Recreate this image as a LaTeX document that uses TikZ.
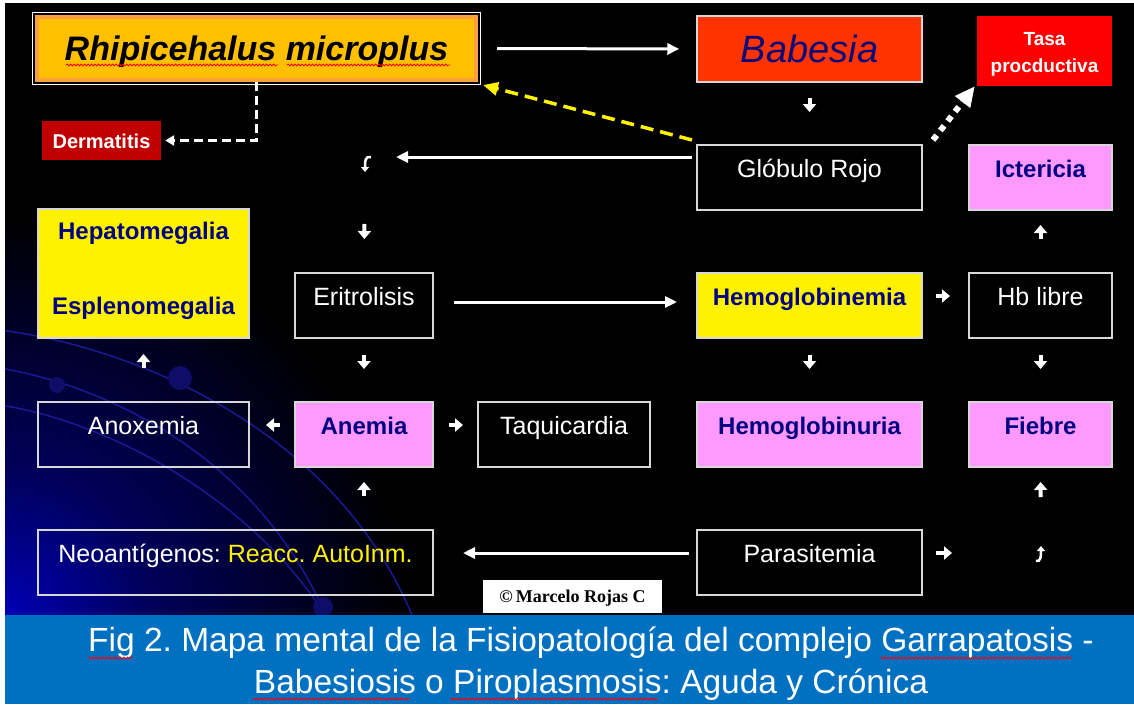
\documentclass[tikz,border=0pt]{standalone}
\usepackage{fontspec}
\setmainfont{Liberation Sans}
\newfontfamily\cpfont{Liberation Serif}
\usetikzlibrary{arrows.meta,decorations.pathmorphing}
\definecolor{navytxt}{RGB}{0,0,128}
\definecolor{pinkc}{RGB}{255,153,255}
\definecolor{orangec}{RGB}{255,192,0}
\definecolor{orangeb}{RGB}{250,160,60}
\definecolor{babc}{RGB}{255,51,0}
\definecolor{dermc}{RGB}{192,0,0}
\definecolor{bandc}{RGB}{0,112,192}
\definecolor{boxline}{RGB}{215,215,215}
\definecolor{glowA}{RGB}{0,0,180}
\definecolor{glowB}{RGB}{0,0,90}
\definecolor{curvec}{RGB}{25,25,150}
\definecolor{dotc}{RGB}{14,14,105}
\definecolor{babtxt}{RGB}{10,10,120}
\pgfdeclareradialshading{cornerglow}{\pgfpoint{0bp}{0bp}}{color(0bp)=(glowA); color(9bp)=(glowB); color(25bp)=(black); color(50bp)=(black)}
\frenchspacing
\begin{document}
\begin{tikzpicture}[x=1pt,y=-1pt,
  bx/.style={draw=boxline, line width=2pt, inner sep=0pt, text height=32pt, text depth=33pt},
  blackbx/.style={bx, text=white, font=\fontsize{25}{30}\selectfont},
  pinkbx/.style={bx, fill=pinkc, text=navytxt, font=\fontsize{24}{29}\selectfont\bfseries},
  yelbx/.style={bx, fill=yellow, text=navytxt, font=\fontsize{24}{29}\selectfont\bfseries},
  longarr/.style={draw=white, line width=3pt, -{Triangle[width=11pt,length=12pt]}},
  blk/.style={draw=white, line width=4pt, -{Triangle[width=13pt,length=8pt]}},
  curarr/.style={draw=white, line width=2.5pt, -{Triangle[width=8pt,length=5pt]}},
  spell/.style={draw=red, line width=0.8pt, decorate, decoration={snake, amplitude=1pt, segment length=3.5pt}},
  curveline/.style={draw=curvec, line width=1.5pt},
]
\useasboundingbox (0,0) rectangle (1134,704);
\fill[white] (0,0) rectangle (1134,704);
\fill[black] (5,3) rectangle (1134,615);
\begin{scope}
  \clip (5,3) rectangle (1134,615);
  \shade[shading=cornerglow] (5,615) circle (400pt);
  \draw[curveline] (0,330) .. controls (120,345) and (330,420) .. (412,615);
  \draw[curveline] (0,368) .. controls (100,385) and (250,450) .. (322,607);
  \draw[curveline] (0,405) .. controls (100,420) and (240,490) .. (320,607);
  \fill[dotc] (180,378) circle (12pt);
  \fill[dotc] (57,385) circle (8pt);
  \fill[dotc] (323,607) circle (10pt);
\end{scope}
\fill[bandc] (5,615) rectangle (1134,704);

% nodes
\node[fill=orangec, draw=orangeb, line width=4pt, inner sep=0pt, minimum width=439pt, minimum height=63pt,
      text height=24pt, text depth=0pt, font=\fontsize{34}{40}\selectfont\bfseries\itshape] (rhipi) at (256.5,48.5) {Rhipicehalus microplus};
\draw[white, line width=1.5pt] ([shift={(-2.5,-2.5)}]rhipi.north west) rectangle ([shift={(2.5,2.5)}]rhipi.south east);
\node[fill=babc, draw=boxline, line width=1.5pt, inner sep=0pt, minimum width=225pt, minimum height=66pt,
      text height=27pt, text depth=0pt, text=babtxt, font=\fontsize{38}{44}\selectfont\itshape] (babesia) at (809.5,49) {Babesia};
\node[fill=red, inner sep=0pt, minimum width=135pt, minimum height=70pt, align=center, text=white,
      font=\fontsize{19}{27}\selectfont\bfseries] (tasa) at (1044.5,51) {\rule{0pt}{19pt}Tasa\\procductiva};
\node[fill=dermc, inner sep=0pt, minimum width=119pt, minimum height=39pt, text height=15pt, text depth=0pt,
      text=white, font=\fontsize{20}{24}\selectfont\bfseries] (derm) at (101.5,140.5) {Dermatitis};

\node[blackbx, minimum width=225pt] (gr) at (809.5,177.5) {Glóbulo Rojo};
\node[pinkbx, minimum width=143pt] (ict) at (1040.5,177.5) {Ictericia};
\node[draw=boxline, line width=2pt, fill=yellow, inner sep=0pt, minimum width=211pt, minimum height=129pt, align=center,
      text=navytxt, font=\fontsize{24}{75}\selectfont\bfseries] (hep) at (143.5,273.5) {Hepatomegalia\\Esplenomegalia\rule[-10pt]{0pt}{10pt}};
\node[blackbx, minimum width=138pt] (erit) at (364,305.5) {Eritrolisis};
\node[yelbx, minimum width=225pt] (hgbn) at (809.5,305.5) {Hemoglobinemia};
\node[blackbx, minimum width=143pt] (hb) at (1040.5,305.5) {Hb libre};
\node[blackbx, minimum width=211pt] (anox) at (143.5,434.5) {Anoxemia};
\node[pinkbx, minimum width=138pt] (anem) at (364,434.5) {Anemia};
\node[blackbx, minimum width=172pt] (taq) at (564,434.5) {Taquicardia};
\node[pinkbx, minimum width=225pt] (hgbu) at (809.5,434.5) {Hemoglobinuria};
\node[pinkbx, minimum width=143pt] (fieb) at (1040.5,434.5) {Fiebre};
\node[blackbx, minimum width=395pt] (neo) at (235.5,562.5) {Neoantígenos: \textcolor{yellow}{Reacc. AutoInm.}};
\node[blackbx, minimum width=225pt] (para) at (809.5,562.5) {Parasitemia};
\node[fill=white, inner sep=0pt, minimum width=179pt, minimum height=33pt, text height=12pt, text depth=0pt,
      font=\cpfont\fontsize{18}{21}\selectfont\bfseries] (copy) at (572.5,596.5) {©\,Marcelo Rojas C};

\node[text=white, font=\fontsize{33.5}{42}\selectfont, align=center, anchor=north, inner sep=0pt] (cap) at (591,627)
  {Fig 2. Mapa mental de la Fisiopatología del complejo Garrapatosis -\\Babesiosis o Piroplasmosis: Aguda y Crónica};

% free points for the small curved arrows
\coordinate (cur1) at (365,172);
\coordinate (cur2) at (1041,546);
\draw[curarr] (371,157) .. controls (365,156) and (365,161) .. (cur1);
\draw[curarr] (1036,561) .. controls (1041,562) and (1041,556) .. (cur2);

% long connectors
\draw[longarr, shorten <=19pt, shorten >=17pt] (rhipi.east) -- (babesia.west);
\draw[longarr, shorten <=4pt] ([yshift=20.5pt]gr.west) -- ++(-300,0);
\draw[longarr, shorten <=20pt, shorten >=19pt] ([yshift=3.5pt]erit.east) -- ([yshift=3.5pt]hgbn.west);
\draw[longarr, shorten <=7pt, shorten >=29pt] ([yshift=9.5pt]para.west) -- ([yshift=9.5pt]neo.east);
\draw[draw=yellow, line width=3.5pt, dash pattern=on 13pt off 7pt, -{Triangle[width=13pt,length=15pt]}]
  ([shift={(-4,-4)}]gr.north west) -- ([shift={(5,3)}]rhipi.south east);
\draw[draw=white, line width=3pt, dash pattern=on 9pt off 5pt, shorten >=4pt, -{Triangle[width=10pt,length=9pt]}]
  (rhipi.south) |- (derm.east);
\draw[draw=white, line width=6pt, dash pattern=on 6pt off 6pt, -{Triangle[width=18pt,length=20pt]}]
  ([shift={(10,-4)}]gr.north east) -- ([shift={(-2,0)}]tasa.south west);

% small block arrows
\draw[blk, shorten <=15pt, shorten >=32pt] (babesia.south) -- (gr.north);
\draw[blk, shorten <=52pt, shorten >=33pt] (cur1) -- (erit.north);
\draw[blk, shorten <=16pt, shorten >=32pt] (erit.south) -- (anem.north);
\draw[blk, shorten <=16pt, shorten >=32pt] (hgbn.south) -- (hgbu.north);
\draw[blk, shorten <=16pt, shorten >=32pt] (hb.south) -- (fieb.north);
\draw[blk, shorten <=33pt, shorten >=15pt] (anox.north) -- (hep.south);
\draw[blk, shorten <=33pt, shorten >=14pt] (hb.north) -- (ict.south);
\draw[blk, shorten <=14pt, shorten >=16pt] ([yshift=9.5pt]anem.west) -- ([yshift=9.5pt]anox.east);
\draw[blk, shorten <=15pt, shorten >=14pt] ([yshift=9.5pt]anem.east) -- ([yshift=9.5pt]taq.west);
\draw[blk, shorten <=13pt, shorten >=18pt] ([yshift=9.5pt]hgbn.east) -- ([yshift=9.5pt]hb.west);
\draw[blk, shorten <=33pt, shorten >=14pt] (anem.south |- neo.north) -- (anem.south);
\draw[blk, shorten <=13pt, shorten >=89pt] ([yshift=9.5pt]para.east) -- (cur2 |- 0,553);
\draw[blk, shorten <=49pt, shorten >=14pt] (cur2) -- (fieb.south);

% spell-check marks
\draw[spell] (66,65) -- (278,65);
\draw[spell] (287,65) -- (450,65);
\draw[spell] (992,77) -- (1100,77);
\draw[spell] (88,658) -- (133,658);
\draw[spell] (880,658) -- (1072,658);
\draw[spell] (253,699) -- (410,699);
\draw[spell] (450,699) -- (658,699);
\end{tikzpicture}
\end{document}
